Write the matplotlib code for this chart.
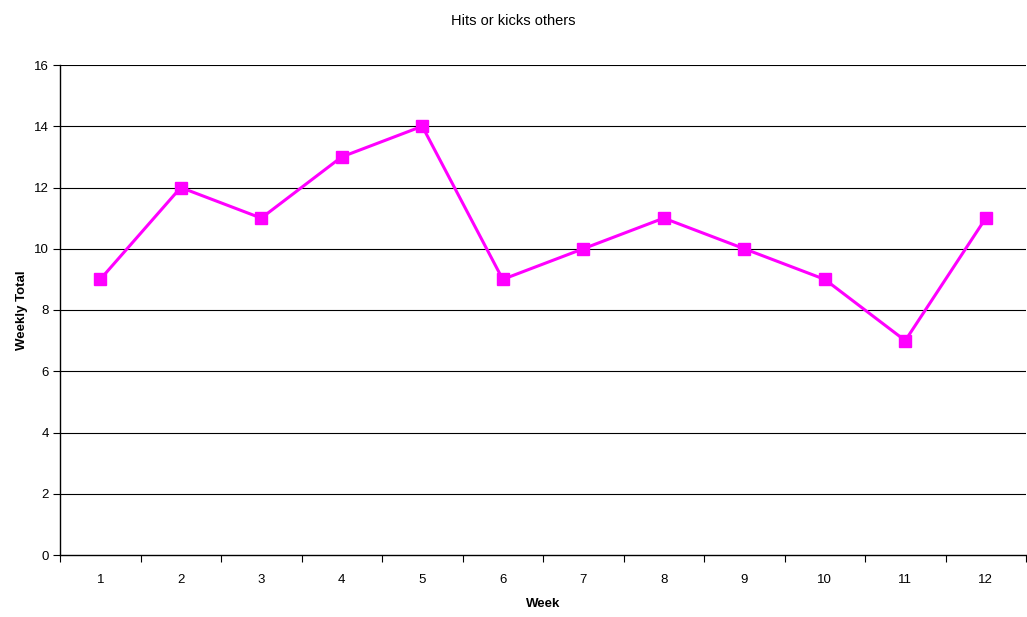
import matplotlib
matplotlib.use("Agg")
import matplotlib.pyplot as plt
from matplotlib.ticker import FixedLocator, NullFormatter

plt.rcParams["font.family"] = ["Liberation Sans", "DejaVu Sans"]

weeks = [1, 2, 3, 4, 5, 6, 7, 8, 9, 10, 11, 12]
totals = [9, 12, 11, 13, 14, 9, 10, 11, 10, 9, 7, 11]
y_ticks = [0, 2, 4, 6, 8, 10, 12, 14, 16]

fig = plt.figure(figsize=(10.27, 6.17), dpi=100)
ax = fig.add_axes([60 / 1027, 1 - 555 / 617, 966 / 1027, 490 / 617])

for y in y_ticks[1:]:
    ax.axhline(y, color="#000000", lw=0.8, zorder=1)

ax.plot(weeks, totals, color="#FF00FF", lw=2.2, marker="s", markersize=8.5,
        zorder=3, clip_on=False)

ax.set_xlim(0.5, 12.5)
ax.set_ylim(0, 16)
ax.set_yticks(y_ticks)
ax.set_xticks(weeks)
ax.xaxis.set_minor_locator(FixedLocator([w + 0.5 for w in [0] + weeks]))
ax.xaxis.set_minor_formatter(NullFormatter())
ax.tick_params(axis="x", which="major", length=0, pad=14, labelsize=9.5)
ax.tick_params(axis="x", which="minor", length=5, width=0.8, direction="out")
ax.tick_params(axis="y", length=5, width=0.8, direction="out", labelsize=9.5, pad=3)

for side in ["top", "right"]:
    ax.spines[side].set_visible(False)
ax.spines["left"].set_linewidth(1.0)
ax.spines["bottom"].set_linewidth(1.0)

ax.set_xlabel("Week", fontsize=9.5, fontweight="bold", labelpad=8)
ax.set_ylabel("Weekly Total", fontsize=9.5, fontweight="bold", labelpad=4)
fig.suptitle("Hits or kicks others", fontsize=10.5, y=0.978)

fig.savefig("out.png", dpi=100)
